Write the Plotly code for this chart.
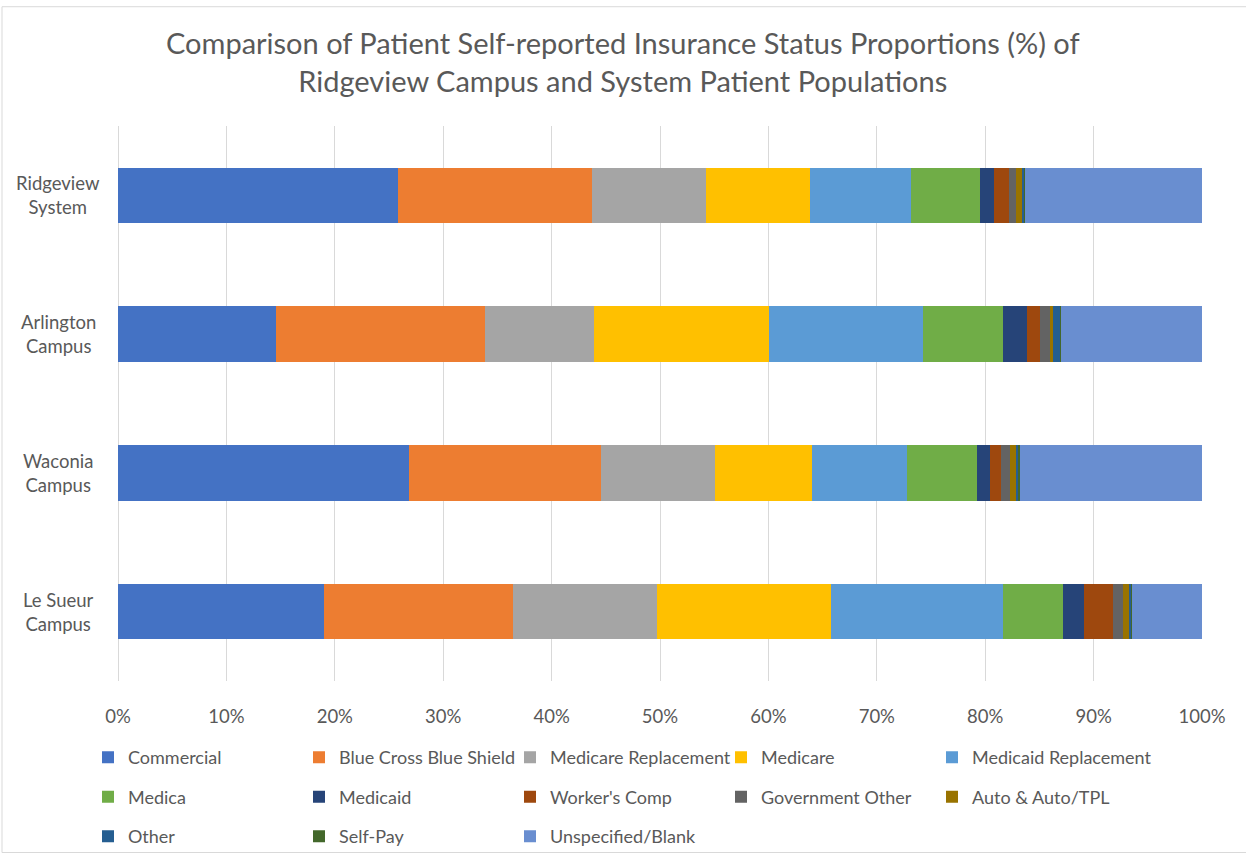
import plotly.graph_objects as go

# ---- data (percent of patients) ----
categories = ["Ridgeview System", "Arlington Campus", "Waconia Campus", "Le Sueur Campus"]
category_labels = ["Ridgeview<br>System", "Arlington<br>Campus", "Waconia<br>Campus", "Le Sueur<br>Campus"]

commercial = [25.8, 14.6, 26.8, 19.0]
blue_cross = [17.9, 19.3, 17.8, 17.4]
medicare_replacement = [10.5, 10.0, 10.5, 13.3]
medicare = [9.6, 16.2, 8.9, 16.1]
medicaid_replacement = [9.4, 14.2, 8.8, 15.8]
medica = [6.3, 7.3, 6.4, 5.6]
medicaid = [1.3, 2.3, 1.2, 1.9]
workers_comp = [1.4, 1.2, 1.1, 2.7]
government_other = [0.6, 0.9, 0.8, 0.9]
auto_tpl = [0.6, 0.3, 0.5, 0.6]
other = [0.2, 0.6, 0.2, 0.2]
self_pay = [0.1, 0.1, 0.2, 0.05]
unspecified = [16.3, 13.0, 16.8, 6.45]

series_names = ["Commercial", "Blue Cross Blue Shield", "Medicare Replacement", "Medicare",
                "Medicaid Replacement", "Medica", "Medicaid", "Worker's Comp",
                "Government Other", "Auto & Auto/TPL", "Other", "Self-Pay", "Unspecified/Blank"]
series_values = [commercial, blue_cross, medicare_replacement, medicare, medicaid_replacement,
                 medica, medicaid, workers_comp, government_other, auto_tpl, other, self_pay,
                 unspecified]
series_colors = ["#4472C4", "#ED7D31", "#A5A5A5", "#FFC000", "#5B9BD5", "#70AD47", "#264478",
                 "#9E480E", "#636363", "#997300", "#255E91", "#43682B", "#698ED0"]

x_ticks = [0, 10, 20, 30, 40, 50, 60, 70, 80, 90, 100]
x_tick_labels = ["0%", "10%", "20%", "30%", "40%", "50%", "60%", "70%", "80%", "90%", "100%"]

title_text = ("Comparison of Patient Self-reported Insurance Status Proportions (%) of<br>"
              "Ridgeview Campus and System Patient Populations")

FONT = "Lato, 'Open Sans', sans-serif"
GREY = "#595959"

# layout geometry (pixels)
W, H = 1246, 867
L, R, T, B = 118, 1202, 126, 689
PW, PH = R - L, B - T


def px_x(px):
    return (px - L) / PW


def px_y(py):
    return (B - py) / PH


N_COLS = 5
legend_ids = ["legend", "legend2", "legend3", "legend4", "legend5"]
legend_col_swatch_x = [105, 316, 527, 738, 949]

fig = go.Figure()
for i, (name, vals, col) in enumerate(zip(series_names, series_values, series_colors)):
    fig.add_trace(go.Bar(
        y=categories, x=vals, name=name, orientation="h",
        marker=dict(color=col, line=dict(width=0)),
        legend=legend_ids[i % N_COLS], legendgroup="g%d" % i,
        hovertemplate="%{y}: %{x}%<extra>" + name + "</extra>",
    ))

legend_layouts = {}
for k, lid in enumerate(legend_ids):
    legend_layouts[lid] = dict(
        orientation="v", xanchor="left", yanchor="top",
        x=px_x(legend_col_swatch_x[k] - 17), y=px_y(748),
        font=dict(family=FONT, size=18, color=GREY),
        bgcolor="rgba(0,0,0,0)", itemwidth=30, tracegroupgap=13,
        traceorder="grouped",
    )

annotations = [dict(
    x=px_x(623), xref="paper", y=px_y(22), yref="paper", text=title_text,
    showarrow=False, xanchor="center", yanchor="top", align="center",
    font=dict(family=FONT, size=29, color=GREY),
)]
for cat, lab in zip(categories, category_labels):
    annotations.append(dict(
        x=px_x(58), xref="paper", y=cat, yref="y", text=lab, showarrow=False,
        xanchor="center", yanchor="middle", align="center",
        font=dict(family=FONT, size=18.5, color=GREY),
    ))

fig.update_layout(
    width=W, height=H,
    margin=dict(l=L, r=W - R, t=T, b=H - B),
    paper_bgcolor="white", plot_bgcolor="white",
    barmode="stack", bargap=0.6,
    xaxis=dict(range=[0, 100], tickmode="array", tickvals=x_ticks, ticktext=x_tick_labels,
               showgrid=True, gridcolor="#D9D9D9", gridwidth=1,
               zeroline=True, zerolinecolor="#D9D9D9", zerolinewidth=1,
               showline=False, ticks="outside", ticklen=19, tickcolor="rgba(0,0,0,0)",
               tickfont=dict(family=FONT, size=18.5, color=GREY), fixedrange=True),
    yaxis=dict(categoryorder="array", categoryarray=categories, autorange="reversed",
               showticklabels=False, showgrid=False, zeroline=False, fixedrange=True),
    annotations=annotations,
    shapes=[dict(type="rect", xref="paper", yref="paper",
                 x0=px_x(2), x1=px_x(1250), y0=px_y(863), y1=px_y(5),
                 line=dict(color="#D9D9D9", width=1), fillcolor="rgba(0,0,0,0)",
                 layer="below")],
    showlegend=True,
    **legend_layouts,
)

fig.write_html("out.html", config={"displayModeBar": False},
               post_script="document.body.style.margin='0px';document.body.style.padding='0px';")
